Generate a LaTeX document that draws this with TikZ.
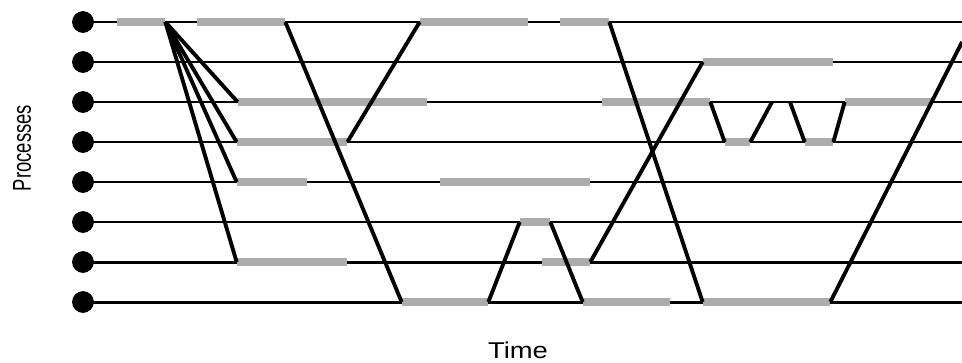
\documentclass[tikz,border=0pt]{standalone}
\usepackage{fontspec}
\setmainfont{Liberation Sans}
\begin{document}
\begin{tikzpicture}[
    x=0.02cm, y=-0.02cm,
    proc/.style={draw,circle,fill=black,minimum size=4.2mm,inner sep=0pt},
    pline/.style={draw,line width=1.7pt},
    busy/.style={rectangle,fill=gray!65,minimum height=1.6mm,inner sep=0pt},
    msg/.style={draw,line width=2.2pt}
  ]
  \useasboundingbox (0,0) rectangle (962,362);
  %% processes and their time lines
  \foreach \i in {0,...,7} {
    \node[proc] (p\i) at (83,22+40*\i) {};
    \coordinate (e\i) at (962,22+40*\i);
    \draw[pline] (p\i.center) -- (e\i);
  }
  %% busy periods on each line
  \foreach \n/\r/\a/\b in {b0a/0/117/165,b0b/0/197/285,b0c/0/420/528,b0d/0/560/609,
      b1a/1/703/833,b2a/2/238/427,b2b/2/602/710,b2c/2/845/932,
      b3a/3/237/347,b3b/3/725/750,b3c/3/805/833,b4a/4/237/307,b4b/4/440/590,
      b5a/5/520/550,b6a/6/237/347,b6b/6/542/590,
      b7a/7/402/488,b7b/7/583/670,b7c/7/703/830}
    \node[busy,minimum width={(\b-\a)*0.2mm}] (\n) at ({(\a+\b)/2},{22+40*\r}) {};
  %% messages
  \foreach \s/\t in {b0a/b2a,b0a/b3a,b0a/b4a,b0a/b6a,b0b/b7a,b3a/b0c,b0d/b7c,
      b7a/b5a,b5a/b7b,b6b/b1a,b2b/b3b,b3c/b2c}
    \draw[msg] (\s.east) -- (\t.west);
  \coordinate (u1) at (772,102);
  \coordinate (u2) at (790,102);
  \coordinate (out) at (962,42);
  \draw[msg] (b3b.east) -- (u1);
  \draw[msg] (u2) -- (b3c.west);
  \draw[msg] (b7c.east) -- (out);
  %% axis labels
  \node[font=\fontsize{10.5}{12}\selectfont,xscale=1.4,rotate=90] (ylab) at (22,148) {Processes};
  \node[font=\fontsize{13}{15}\selectfont,xscale=1.2] (xlab) at (518,350) {Time};
\end{tikzpicture}
\end{document}
